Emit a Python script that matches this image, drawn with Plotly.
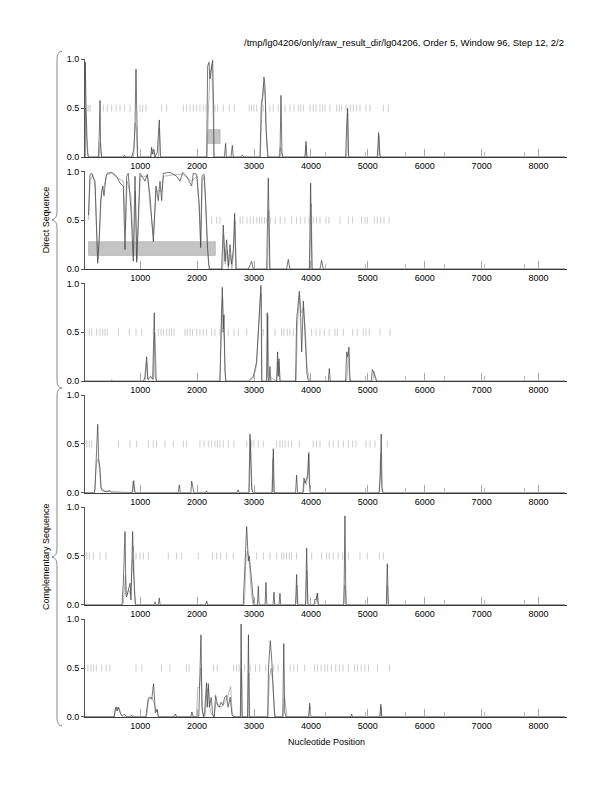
import plotly.graph_objects as go

W, H = 612, 792

TITLE = "/tmp/lg04206/only/raw_result_dir/lg04206, Order 5, Window 96, Step 12, 2/2"
X_TITLE = "Nucleotide Position"
GROUP_LABELS = ["Direct Sequence", "Complementary Sequence"]

X_TICKS = [1000, 2000, 3000, 4000, 5000, 6000, 7000, 8000]
X_MINOR = [4250, 4952, 5654, 6356, 7058, 7760]
Y_TICKS = [0.0, 0.5, 1.0]
Y_TICKTEXT = ["0.0", "0.5", "1.0"]
X_RANGE = [30, 8500]

# ---------------- data ----------------
p1_dark = [(30, 0.0), (35, 0.97), (48, 0.55), (71, 0.05), (89, 0), (264, 0), (282, 0.25), (294, 0.58), (305, 0.1),
           (320, 0), (700, 0), (721, 0.02), (744, 0), (850, 0), (890, 0.08), (909, 0.35), (926, 0.9), (940, 0.3),
           (955, 0), (1184, 0), (1201, 0.1), (1215, 0.03), (1242, 0.08), (1260, 0), (1300, 0.05), (1336, 0.38),
           (1355, 0.02), (1370, 0), (2168, 0), (2185, 0.93), (2209, 0.97), (2226, 0.8), (2250, 0.92), (2273, 0.99),
           (2291, 0.5), (2295, 0), (2478, 0), (2502, 0.14), (2515, 0), (2595, 0), (2619, 0.12), (2635, 0),
           (2760, 0), (2794, 0.02), (2820, 0), (3105, 0), (3128, 0.55), (3152, 0.62), (3175, 0.82), (3193, 0.72),
           (3210, 0.3), (3225, 0.2), (3245, 0), (3456, 0), (3474, 0.63), (3491, 0.05), (3505, 0), (3895, 0),
           (3913, 0.16), (3930, 0), (4610, 0), (4630, 0.35), (4645, 0.5), (4660, 0.02), (4670, 0), (5165, 0),
           (5190, 0.25), (5210, 0.02), (5230, 0), (8470, 0)]
p1_gray = [(30, 0.0), (35, 0.5), (60, 0.2), (89, 0), (280, 0), (294, 0.15), (310, 0.1), (320, 0), (880, 0), (915, 0.35),
           (930, 0.3), (950, 0), (1190, 0), (1210, 0.08), (1230, 0.05), (1250, 0), (1320, 0), (1336, 0.3),
           (1355, 0), (2175, 0), (2200, 0.5), (2226, 0.85), (2260, 0.95), (2290, 0.4), (2300, 0), (3110, 0),
           (3140, 0.5), (3170, 0.75), (3200, 0.6), (3225, 0.1), (3245, 0), (3440, 0), (3460, 0.1), (3480, 0.05),
           (3500, 0), (3900, 0), (3915, 0.12), (3930, 0), (4630, 0), (4645, 0.45), (4660, 0), (5180, 0),
           (5195, 0.22), (5215, 0), (8470, 0)]
p1_stops = [60, 85, 118, 352, 422, 499, 575, 645, 721, 821, 996, 1043, 1102, 1377, 1465, 1757, 1816, 1875, 1933,
            1992, 2050, 2109, 2156, 2197, 2314, 2361, 2460, 2566, 2654, 2917, 2959, 2999, 3046, 3163, 3280, 3339,
            3427, 3544, 3632, 3702, 3778, 3820, 3866, 3983, 4041, 4089, 4159, 4206, 4247, 4335, 4452, 4499, 4540,
            4616, 4698, 4745, 4804, 4862, 4967, 5038, 5271, 5359]
p1_genes = [(2193, 2404)]

p2_dark = [(90, 0.55), (106, 0.77), (118, 0.97), (150, 0.98), (165, 0.95), (206, 0.9), (235, 0.38), (253, 0.06),
           (276, 0.28), (305, 0.7), (340, 0.85), (364, 0.75), (399, 0.95), (422, 0.98), (499, 0.99), (586, 0.95),
           (645, 0.88), (703, 0.85), (733, 0.2), (762, 0.95), (791, 0.98), (838, 0.6), (879, 0.08), (909, 0.95),
           (938, 0.07), (967, 0.5), (996, 0.98), (1084, 0.9), (1125, 0.97), (1172, 0.75), (1231, 0.28),
           (1277, 0.85), (1318, 0.7), (1348, 0.9), (1377, 0.7), (1406, 0.98), (1523, 0.99), (1641, 0.95),
           (1699, 0.9), (1746, 0.99), (1816, 0.95), (1904, 0.85), (1933, 0.98), (1992, 0.97), (2039, 0.65),
           (2062, 0.22), (2086, 0.95), (2121, 0.97), (2150, 0.7), (2185, 0.2), (2214, 0), (2431, 0), (2460, 0.45),
           (2490, 0.08), (2519, 0.3), (2548, 0.03), (2578, 0.25), (2607, 0.05), (2636, 0.2), (2659, 0.57),
           (2683, 0), (2900, 0), (2958, 0.08), (2988, 0), (3222, 0), (3251, 0.93), (3280, 0), (3573, 0),
           (3602, 0.1), (3632, 0), (3972, 0), (3995, 0.88), (4018, 0), (4159, 0), (4188, 0.09), (4217, 0),
           (8470, 0)]
p2_gray = [(95, 0.5), (118, 0.9), (165, 0.97), (206, 0.85), (240, 0.3), (260, 0.1), (290, 0.4), (320, 0.8),
           (364, 0.85), (420, 0.97), (500, 0.98), (600, 0.93), (703, 0.9), (740, 0.4), (770, 0.9), (838, 0.75),
           (885, 0.15), (915, 0.8), (945, 0.1), (975, 0.6), (1000, 0.95), (1130, 0.95), (1180, 0.6), (1235, 0.35),
           (1280, 0.8), (1380, 0.8), (1410, 0.95), (1650, 0.97), (1750, 0.97), (1900, 0.9), (2000, 0.95),
           (2045, 0.5), (2065, 0.25), (2090, 0.9), (2130, 0.95), (2160, 0.5), (2200, 0.05), (2230, 0), (2450, 0),
           (2465, 0.35), (2495, 0.05), (2525, 0.2), (2550, 0), (2580, 0.15), (2610, 0), (2640, 0.15),
           (2665, 0.5), (2690, 0), (3240, 0), (3258, 0.6), (3275, 0), (3980, 0), (4005, 0.67), (4025, 0),
           (8470, 0)]
p2_stops = [2256, 2344, 2402, 2757, 2804, 2875, 2933, 2992, 3050, 3097, 3138, 3185, 3226, 3285, 3373, 3461, 3544,
            3661, 3749, 3819, 3895, 3966, 4041, 4100, 4159, 4264, 4317, 4510, 4657, 4733, 4891, 4950, 4991, 5114,
            5167, 5226, 5284, 5372]
p2_genes = [(92, 2320)]

p3_dark = [(30, 0), (480, 0), (500, 0.01), (520, 0), (1060, 0), (1084, 0.05), (1113, 0.25), (1135, 0.02),
           (1160, 0.03), (1184, 0.05), (1219, 0.02), (1235, 0.3), (1248, 0.7), (1265, 0.05), (1285, 0),
           (2400, 0), (2414, 0.3), (2443, 0.96), (2458, 0.5), (2472, 0.68), (2490, 0.1), (2507, 0), (2900, 0),
           (2929, 0.02), (2988, 0.05), (3046, 0.2), (3081, 0.6), (3105, 0.88), (3122, 0.98), (3130, 0.4),
           (3135, 0), (3222, 0), (3232, 0.7), (3245, 0.05), (3263, 0), (3280, 0.15), (3295, 0), (3397, 0),
           (3415, 0.3), (3425, 0.05), (3440, 0.23), (3455, 0), (3730, 0), (3749, 0.63), (3775, 0.8),
           (3797, 0.92), (3820, 0.65), (3838, 0.3), (3867, 0.82), (3885, 0.6), (3910, 0.3), (3930, 0.08),
           (3955, 0), (4305, 0), (4323, 0.13), (4340, 0), (4610, 0), (4628, 0.3), (4645, 0.25), (4669, 0.35),
           (4680, 0.1), (4690, 0), (5060, 0), (5080, 0.12), (5110, 0.08), (5140, 0.02), (5160, 0), (8470, 0)]
p3_gray = [(30, 0), (1090, 0), (1113, 0.2), (1130, 0.05), (1150, 0), (1230, 0), (1255, 0.5), (1275, 0.05),
           (1290, 0), (2405, 0), (2430, 0.75), (2450, 0.85), (2475, 0.5), (2500, 0), (2930, 0), (2990, 0.03),
           (3040, 0.15), (3075, 0.5), (3110, 0.85), (3130, 0.9), (3140, 0), (3225, 0), (3245, 0.68), (3260, 0.05),
           (3400, 0), (3420, 0.2), (3445, 0.15), (3460, 0), (3740, 0), (3760, 0.55), (3800, 0.88), (3830, 0.7),
           (3870, 0.75), (3900, 0.55), (3930, 0.15), (3960, 0.05), (3980, 0), (4630, 0), (4660, 0.3), (4680, 0),
           (5090, 0), (5110, 0.1), (5140, 0), (8470, 0)]
p3_stops = [106, 147, 235, 294, 341, 381, 422, 616, 809, 926, 1026, 1230, 1318, 1365, 1406, 1465, 1511, 1553,
            1594, 1787, 1828, 1875, 1922, 1992, 2050, 2109, 2168, 2256, 2314, 2402, 2460, 2548, 2648, 2724, 2871,
            3163, 3368, 3485, 3525, 3584, 3631, 3690, 4012, 4089, 4159, 4235, 4323, 4423, 4464, 4570, 4733, 4815,
            4920, 4967, 5026, 5213, 5389]
p3_genes = []

p4_dark = [(30, 0), (195, 0), (206, 0.05), (235, 0.4), (253, 0.7), (270, 0.35), (294, 0.25), (311, 0.05),
           (352, 0.02), (400, 0.01), (469, 0.02), (500, 0), (860, 0), (879, 0.12), (897, 0.05), (910, 0),
           (1670, 0), (1687, 0.08), (1705, 0), (1890, 0), (1904, 0.12), (1925, 0.03), (1945, 0), (2150, 0),
           (2165, 0.02), (2180, 0), (2700, 0), (2720, 0.03), (2740, 0), (2910, 0), (2929, 0.6), (2958, 0.05),
           (2980, 0), (3320, 0), (3339, 0.45), (3355, 0), (3730, 0), (3749, 0.18), (3765, 0), (3860, 0),
           (3878, 0.15), (3900, 0.1), (3913, 0.12), (3942, 0.18), (3960, 0.4), (3972, 0.1), (3990, 0),
           (5200, 0), (5220, 0.18), (5235, 0.6), (5250, 0.05), (5270, 0), (8470, 0)]
p4_gray = [(30, 0), (200, 0), (230, 0.3), (260, 0.35), (290, 0.2), (320, 0.02), (870, 0), (890, 0.13), (905, 0),
           (2915, 0), (2940, 0.55), (2965, 0.03), (2980, 0), (3315, 0), (3330, 0.35), (3350, 0), (3865, 0),
           (3890, 0.12), (3920, 0.08), (3950, 0.2), (3966, 0.42), (3985, 0), (5200, 0), (5225, 0.4),
           (5245, 0.05), (5260, 0), (8470, 0)]
p4_stops = [60, 106, 147, 616, 821, 938, 1143, 1230, 1289, 1436, 1582, 1757, 1816, 2050, 2121, 2197, 2256, 2314,
            2355, 2402, 2460, 2548, 2648, 2871, 2959, 2999, 3075, 3163, 3398, 3456, 3497, 3544, 3602, 3661, 3796,
            4041, 4100, 4159, 4323, 4393, 4481, 4569, 4657, 4733, 4792, 4967, 5038, 5125, 5342]
p4_genes = []

p5_dark = [(30, 0), (680, 0), (703, 0.22), (733, 0.75), (750, 0.1), (762, 0.08), (791, 0.15), (821, 0.22),
           (838, 0.05), (867, 0.75), (885, 0.3), (900, 0.05), (914, 0), (1240, 0), (1260, 0.03), (1280, 0),
           (1320, 0), (1336, 0.07), (1350, 0), (2150, 0), (2168, 0.04), (2185, 0), (2810, 0), (2841, 0.4),
           (2871, 0.8), (2900, 0.45), (2917, 0.5), (2941, 0.35), (2958, 0.2), (2988, 0.05), (3000, 0),
           (3060, 0), (3076, 0.19), (3090, 0), (3195, 0), (3210, 0.23), (3225, 0), (3335, 0), (3351, 0.13),
           (3365, 0), (3440, 0), (3456, 0.12), (3470, 0), (3730, 0), (3749, 0.31), (3765, 0), (3905, 0),
           (3925, 0.58), (3945, 0), (4055, 0), (4071, 0.06), (4090, 0.05), (4112, 0.12), (4125, 0), (4580, 0),
           (4598, 0.91), (4615, 0), (5325, 0), (5342, 0.42), (5360, 0), (8470, 0)]
p5_gray = [(30, 0), (700, 0), (720, 0.15), (740, 0.3), (760, 0.1), (800, 0.15), (830, 0.1), (860, 0.5),
           (880, 0.6), (905, 0.1), (920, 0), (2830, 0), (2860, 0.5), (2890, 0.55), (2920, 0.4), (2950, 0.15),
           (2980, 0), (3735, 0), (3755, 0.2), (3775, 0), (3910, 0), (3930, 0.35), (3950, 0), (4080, 0),
           (4100, 0.08), (4120, 0.12), (4135, 0), (4570, 0), (4590, 0.2), (4610, 0.15), (4625, 0), (5330, 0),
           (5345, 0.2), (5360, 0), (8470, 0)]
p5_stops = [60, 106, 176, 294, 399, 880, 926, 996, 1055, 1143, 1494, 1640, 1728, 2021, 2273, 2344, 2414, 2519,
            2636, 3046, 3163, 3280, 3398, 3485, 3525, 3573, 3619, 3660, 3748, 4012, 4188, 4276, 4323, 4393, 4481,
            4557, 4657, 4862, 4991, 5202, 5272]
p5_genes = []

p6_dark = [(30, 0), (540, 0), (562, 0.08), (580, 0.1), (594, 0.06), (610, 0.1), (626, 0.08), (642, 0.05),
           (658, 0.03), (690, 0.01), (722, 0.03), (760, 0), (830, 0), (851, 0.02), (870, 0), (1100, 0),
           (1139, 0.18), (1170, 0.2), (1203, 0.18), (1235, 0.34), (1250, 0.1), (1267, 0.04), (1299, 0.08),
           (1320, 0), (1600, 0), (1620, 0.03), (1640, 0), (1890, 0), (1908, 0.05), (1930, 0), (2030, 0),
           (2068, 0.84), (2085, 0.1), (2110, 0), (2132, 0.05), (2165, 0.35), (2180, 0.1), (2197, 0.34),
           (2216, 0.1), (2248, 0.2), (2274, 0.02), (2300, 0), (2325, 0.22), (2360, 0.12), (2389, 0.1),
           (2421, 0.15), (2453, 0.12), (2485, 0.2), (2517, 0.22), (2545, 0.1), (2581, 0.2), (2613, 0.02),
           (2640, 0), (2760, 0), (2773, 0.95), (2790, 0), (2885, 0), (2902, 0.84), (2918, 0), (3240, 0),
           (3254, 0.5), (3286, 0.78), (3310, 0.6), (3337, 0.3), (3363, 0), (3505, 0), (3523, 0.75), (3540, 0.05),
           (3560, 0), (3960, 0), (3979, 0.14), (3995, 0), (4700, 0), (4716, 0.03), (4730, 0), (5210, 0),
           (5229, 0.13), (5245, 0), (8470, 0)]
p6_gray = [(30, 0), (545, 0), (570, 0.1), (600, 0.07), (630, 0.1), (660, 0.02), (700, 0), (1110, 0), (1150, 0.2),
           (1200, 0.2), (1240, 0.15), (1280, 0.05), (1300, 0.07), (1320, 0), (1990, 0), (2010, 0.3), (2040, 0.3),
           (2070, 0.5), (2095, 0.05), (2140, 0), (2170, 0.25), (2200, 0.3), (2230, 0.05), (2300, 0),
           (2330, 0.15), (2420, 0.1), (2500, 0.15), (2560, 0.25), (2590, 0.31), (2615, 0.05), (2640, 0),
           (2765, 0), (2780, 0.5), (2795, 0), (2895, 0), (2910, 0.45), (2925, 0), (3245, 0), (3270, 0.4),
           (3300, 0.5), (3330, 0.35), (3360, 0.05), (3380, 0), (3510, 0), (3535, 0.2), (3560, 0.1), (3580, 0),
           (3965, 0), (3985, 0.1), (4000, 0), (5215, 0), (5232, 0.1), (5245, 0), (8470, 0)]
p6_stops = [81, 132, 177, 229, 325, 401, 465, 926, 1029, 1375, 1522, 1810, 1861, 2290, 2354, 2642, 2694, 2738,
            2834, 2931, 3027, 3103, 3206, 3347, 3424, 3635, 3699, 3763, 3891, 4064, 4115, 4179, 4243, 4294, 4358,
            4435, 4499, 4563, 4659, 4768, 4819, 4883, 4947, 5011, 5171, 5383]
p6_genes = []

STOP_LEVEL = 0.5

panels = [
    (p1_dark, p1_gray, p1_stops, p1_genes),
    (p2_dark, p2_gray, p2_stops, p2_genes),
    (p3_dark, p3_gray, p3_stops, p3_genes),
    (p4_dark, p4_gray, p4_stops, p4_genes),
    (p5_dark, p5_gray, p5_stops, p5_genes),
    (p6_dark, p6_gray, p6_stops, p6_genes),
]

# ---------------- layout (pixel geometry) ----------------
PLOT_L, PLOT_R = 85, 567
PANEL_TOPS = [55, 168.5, 282, 395, 508.5, 622]
PANEL_H = 99
FONT = "Liberation Sans, Arial, Helvetica, sans-serif"


def px(xp):
    return xp / W


def py(yp):
    return 1 - yp / H


fig = go.Figure()
shapes = []
layout = {}

for i, (dark, gray, stops, genes) in enumerate(panels):
    k = i + 1
    xa = "x" if k == 1 else f"x{k}"
    ya = "y" if k == 1 else f"y{k}"
    top = PANEL_TOPS[i]
    bot = top + PANEL_H

    for (g0, g1) in genes:
        shapes.append(dict(type="rect", xref=xa, yref=ya, x0=g0, x1=g1, y0=0.14, y1=0.28,
                           fillcolor="#c4c4c4", line=dict(color="#b8b8b8", width=0.8), layer="below"))

    fig.add_trace(go.Scatter(x=[p[0] for p in gray], y=[p[1] for p in gray], mode="lines",
                             line=dict(color="#a8a8a8", width=0.8), xaxis=xa, yaxis=ya,
                             showlegend=False, hoverinfo="skip"))
    fig.add_trace(go.Scatter(x=[p[0] for p in dark], y=[p[1] for p in dark], mode="lines",
                             line=dict(color="#3c3c3c", width=0.7), xaxis=xa, yaxis=ya,
                             showlegend=False, hoverinfo="skip"))
    fig.add_trace(go.Scatter(x=stops, y=[STOP_LEVEL] * len(stops), mode="markers",
                             marker=dict(symbol="line-ns", size=5, line=dict(color="#ababab", width=0.6)),
                             xaxis=xa, yaxis=ya, showlegend=False, hoverinfo="skip"))

    xkey = "xaxis" if k == 1 else f"xaxis{k}"
    ykey = "yaxis" if k == 1 else f"yaxis{k}"
    layout[xkey] = dict(domain=[px(PLOT_L), px(PLOT_R)], range=X_RANGE, anchor=ya,
                        tickmode="array", tickvals=X_TICKS, ticks="inside", ticklen=8, tickwidth=1,
                        tickcolor="#a8a8a8", showline=True, linecolor="#3a3a3a", linewidth=1,
                        showgrid=False, zeroline=False, tickfont=dict(family=FONT, size=9, color="black"),
                        minor=dict(tickmode="array", tickvals=X_MINOR, ticks="inside", ticklen=5,
                                   tickcolor="#b8b8b8", tickwidth=1, showgrid=False),
                        fixedrange=True)
    layout[ykey] = dict(domain=[py(bot), py(top)], range=[0, 1.0], anchor=xa,
                        tickmode="array", tickvals=Y_TICKS, ticktext=Y_TICKTEXT, ticks="outside",
                        ticklen=3, tickcolor="#555", showline=True, linecolor="#555", linewidth=1,
                        showgrid=False, zeroline=False, tickfont=dict(family=FONT, size=9, color="black"),
                        fixedrange=True)


def brace(y0, y1, xl=57, xtip=52, xend=62, r=8):
    ym = (y0 + y1) / 2
    pts = (f"M {px(xend)},{py(y0)} Q {px(xl)},{py(y0)} {px(xl)},{py(y0 + r)} "
           f"L {px(xl)},{py(ym - r)} Q {px(xl)},{py(ym - 1)} {px(xtip)},{py(ym)} "
           f"Q {px(xl)},{py(ym + 1)} {px(xl)},{py(ym + r)} "
           f"L {px(xl)},{py(y1 - r)} Q {px(xl)},{py(y1)} {px(xend)},{py(y1)}")
    return dict(type="path", xref="paper", yref="paper", path=pts, line=dict(color="#8a8a8a", width=1))


shapes.append(brace(47, 388))
shapes.append(brace(388, 730))

annotations = [
    dict(text=TITLE, x=px(566), y=py(38), xref="paper", yref="paper", xanchor="right", yanchor="middle",
         showarrow=False, font=dict(family=FONT, size=9.5, color="black")),
    dict(text=X_TITLE, x=px(326), y=py(746), xref="paper", yref="paper", xanchor="center", yanchor="middle",
         showarrow=False, font=dict(family=FONT, size=9, color="black")),
    dict(text=GROUP_LABELS[0], x=px(46), y=py(218), xref="paper", yref="paper", xanchor="center",
         yanchor="middle", textangle=-90, showarrow=False, font=dict(family=FONT, size=9, color="black")),
    dict(text=GROUP_LABELS[1], x=px(46), y=py(559), xref="paper", yref="paper", xanchor="center",
         yanchor="middle", textangle=-90, showarrow=False, font=dict(family=FONT, size=9, color="black")),
]

fig.update_layout(width=W, height=H, margin=dict(l=0, r=0, t=0, b=0), paper_bgcolor="white",
                  plot_bgcolor="white", shapes=shapes, annotations=annotations, showlegend=False,
                  **layout)

fig.write_html("out.html", config={"displayModeBar": False},
               post_script="document.body.style.margin='0px';document.body.style.padding='0px';"
                           "document.body.style.overflow='hidden';")
